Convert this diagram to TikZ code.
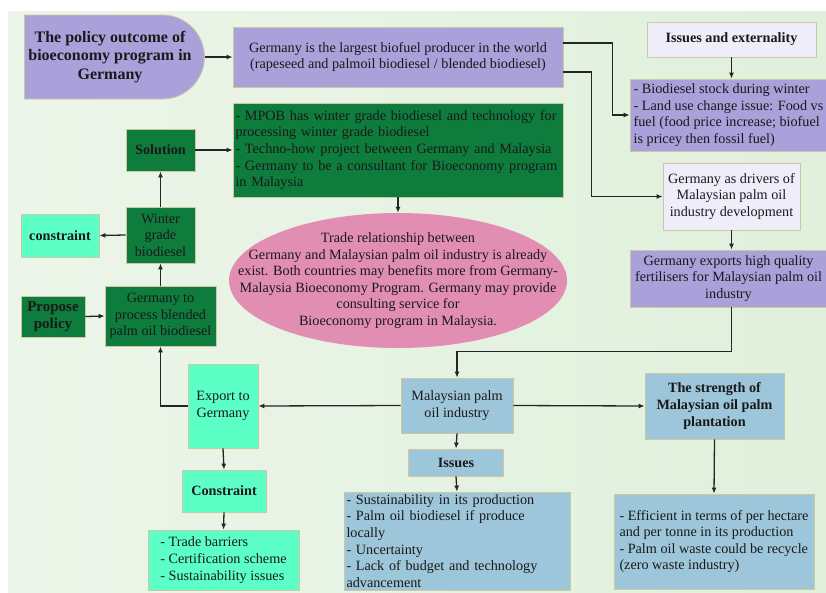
\documentclass[tikz,border=0pt]{standalone}
\usepackage{fontspec}
\setmainfont{Liberation Serif}
\usetikzlibrary{arrows.meta,shapes.misc,shapes.geometric}
\definecolor{bgc}{RGB}{224,240,220}
\definecolor{bgl}{RGB}{236,245,233}
\definecolor{lav}{RGB}{170,160,218}
\definecolor{lavlt}{RGB}{240,237,250}
\definecolor{dgreen}{RGB}{14,124,60}
\definecolor{aqua}{RGB}{92,255,198}
\definecolor{lblue}{RGB}{158,198,218}
\definecolor{pinkc}{RGB}{226,142,178}
\definecolor{edgec}{RGB}{205,200,160}
\definecolor{txt}{RGB}{25,25,25}
\newcommand\fsz{\fontsize{14.2}{16.6}\selectfont}
\newcommand\fbz{\fontsize{14.2}{16.6}\selectfont\bfseries}
\newcommand\ftz{\fontsize{16}{18.5}\selectfont\bfseries}
\begin{document}
\begin{tikzpicture}[x=1pt,y=-1pt,
  box/.style={draw=edgec, line width=0.8pt, inner sep=2pt, font=\fsz, align=center, text=txt},
  lavbox/.style={box, fill=lav},
  lightbox/.style={box, fill=lavlt},
  greenbox/.style={box, fill=dgreen},
  aquabox/.style={box, fill=aqua},
  bluebox/.style={box, fill=lblue},
  arr/.style={draw=black!85, line width=1.3pt, -{Latex[length=6pt,width=5pt]}}]
\useasboundingbox (0,0) rectangle (826,592);
\shade[left color=bgl, right color=bgc] (8,11) rectangle (826,592);

% top row
\node[rounded rectangle, rounded rectangle west arc=none, fill=lav, draw=edgec, line width=0.8pt,
      minimum width=180, minimum height=84, inner sep=0pt, font=\ftz, align=center, text=txt]
      (title) at (110,57) {The policy outcome of\\bioeconomy program in\\Germany};
\node[lavbox, minimum width=330, minimum height=60] (glarge) at (398,57)
  {Germany is the largest biofuel producer in the world\\(rapeseed and palmoil biodiesel / blended biodiesel)};
\node[lightbox, font=\fbz, minimum width=169, minimum height=35] (issext) at (731.5,39.5) {Issues and externality};
\node[lavbox, align=left, minimum width=197, minimum height=72] (bio) at (728.5,115)
  {- Biodiesel stock during winter\\- Land use change issue: Food vs\\fuel (food price increase; biofuel\\is pricey then fossil fuel)};
\node[lightbox, minimum width=137, minimum height=67] (drivers) at (731.5,196.5)
  {Germany as drivers of\\Malaysian palm oil\\industry development};
\node[lavbox, minimum width=197, minimum height=57] (exports) at (728.5,278.5)
  {Germany exports high quality\\fertilisers for Malaysian palm oil\\industry};

% green column
\node[greenbox, align=left, minimum width=330, minimum height=94, text width=325] (mpob) at (398,150)
  {- MPOB has winter grade biodiesel and technology for\\processing winter grade biodiesel\\- Techno-how project between Germany and Malaysia\\- Germany to be a consultant for Bioeconomy program\\in Malaysia};
\node[greenbox, font=\fbz, minimum width=69, minimum height=42] (solution) at (160.5,150) {Solution};
\node[greenbox, minimum width=69, minimum height=56] (winter) at (160.5,235) {Winter\\grade\\biodiesel};
\node[aquabox, font=\fbz, minimum width=78, minimum height=43] (constr1) at (60,235.5) {constraint};
\node[greenbox, minimum width=111, minimum height=60] (process) at (160.5,316) {Germany to\\process blended\\palm oil biodiesel};
\node[greenbox, font=\fontsize{15}{17}\selectfont\bfseries, minimum width=64, minimum height=41] (propose) at (53,316.5) {Propose\\policy};

% ellipse
\node[ellipse, fill=pinkc, draw=none, minimum width=338, minimum height=135, inner sep=0pt]
  (trade) at (398,280.5) {};
\node[font=\fsz, align=center, text=txt, inner sep=0pt] (tradetxt) at (trade.center)
  {Trade relationship between\\Germany and Malaysian palm oil industry is already\\exist. Both countries may benefits more from Germany-\\Malaysia Bioeconomy Program. Germany may provide\\consulting service for\\Bioeconomy program in Malaysia.};

% bottom
\node[aquabox, minimum width=70, minimum height=84] (export) at (223,406) {Export to\\Germany};
\node[aquabox, font=\fbz, minimum width=84, minimum height=42] (constr2) at (224,491) {Constraint};
\node[aquabox, align=left, minimum width=151, minimum height=60] (tradelist) at (223.5,560)
  {- Trade barriers\\- Certification scheme\\- Sustainability issues};
\node[bluebox, minimum width=112, minimum height=55] (malay) at (457,405.5) {Malaysian palm\\oil industry};
\node[bluebox, font=\fbz, minimum width=95, minimum height=27] (issues) at (456,462.5) {Issues};
\node[bluebox, align=left, minimum width=226, minimum height=98, text width=221] (isslist) at (457,541)
  {- Sustainability in its production\\- Palm oil biodiesel if produce\\locally\\- Uncertainty\\- Lack of budget and technology\\advancement};
\node[bluebox, font=\fbz, minimum width=139, minimum height=66] (strength) at (714.5,406)
  {The strength of\\Malaysian oil palm\\plantation};
\node[bluebox, align=left, minimum width=200, minimum height=95, inner sep=1.5pt] (strlist) at (714,541.5)
  {- Efficient in terms of per hectare\\and per tonne in its production\\- Palm oil waste could be recycle\\(zero waste industry)};

% connectors
\draw[arr] (title.east) -- (glarge.west);
\draw[arr] ([yshift=14pt]glarge.east) -| ([xshift=-17pt]bio.west) -- (bio.west);
\draw[arr] ([yshift=-15pt]glarge.east) -| ([xshift=-71pt]drivers.west) -- (drivers.west);
\draw[arr] (issext.south) -- (issext.south |- bio.north);
\draw[arr] (drivers.south) -- (drivers.south |- exports.north);
\draw[arr] (exports.south -| drivers.south) |- ([yshift=26pt]malay.north) -- (malay.north);
\draw[arr] (mpob.south) -- (trade.north);
\draw[arr] (solution.east) -- (solution.east -| mpob.west);
\draw[arr] (winter.north) -- (solution.south);
\draw[arr] (winter.west) -- (constr1.east);
\draw[arr] (process.north) -- (winter.south);
\draw[arr] (propose.east) -- (process.west);
\draw[arr] (malay.west) -- (export.east);
\draw[arr] (export.west) -| (process.south);
\draw[arr] (malay.east) -- (strength.west);
\draw[arr] (malay.south) -- (issues.north);
\draw[arr] (issues.south) -- (isslist.north);
\draw[arr] (strength.south) -- (strlist.north);
\draw[arr] (export.south) -- (constr2.north);
\draw[arr] (constr2.south) -- (tradelist.north);
\end{tikzpicture}
\end{document}
